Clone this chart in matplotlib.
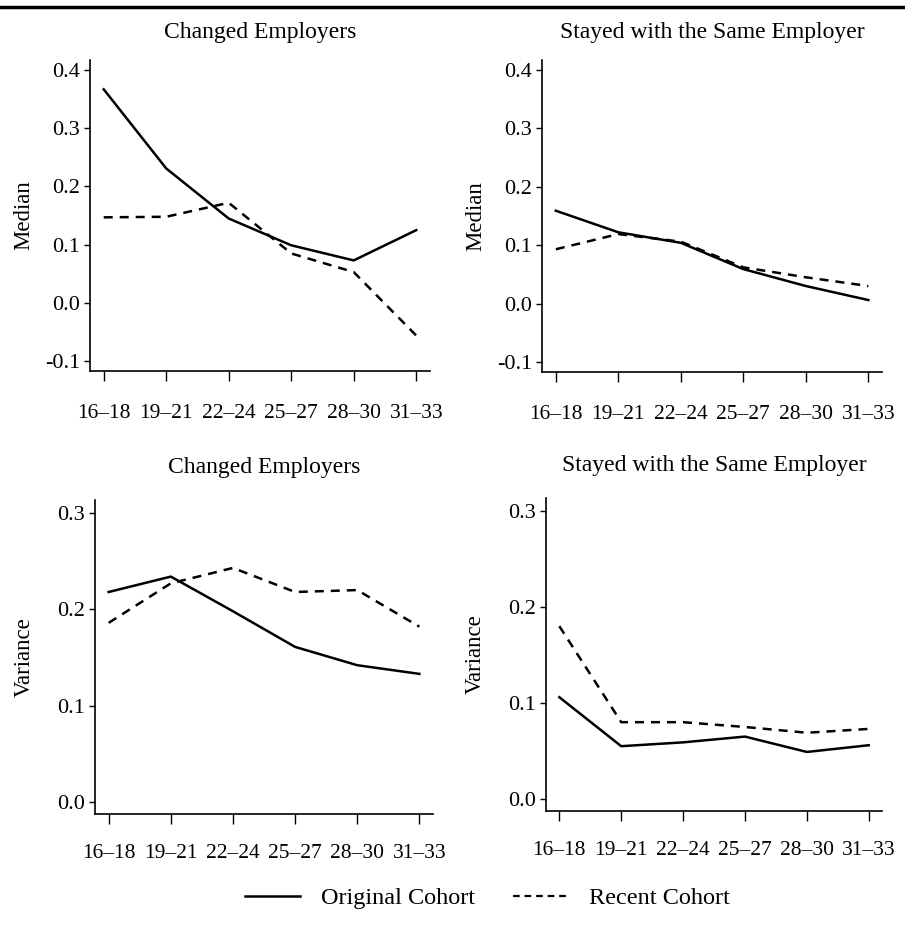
import matplotlib
matplotlib.use("Agg")
import matplotlib.pyplot as plt
from matplotlib.lines import Line2D

plt.rcParams['font.family'] = ['Liberation Serif', 'DejaVu Serif']

ages = ["16–18", "19–21", "22–24", "25–27", "28–30", "31–33"]

# median, changed employers
med_changed_orig = [0.367, 0.231, 0.145, 0.099, 0.073, 0.125]
med_changed_recent = [0.147, 0.148, 0.172, 0.085, 0.053, -0.056]
# median, stayed with same employer
med_stayed_orig = [0.159, 0.122, 0.104, 0.059, 0.030, 0.006]
med_stayed_recent = [0.093, 0.119, 0.106, 0.062, 0.045, 0.030]
# variance, changed employers
var_changed_orig = [0.218, 0.234, 0.198, 0.161, 0.142, 0.133]
var_changed_recent = [0.186, 0.227, 0.243, 0.218, 0.220, 0.182]
# variance, stayed with same employer
var_stayed_orig = [0.106, 0.055, 0.059, 0.065, 0.049, 0.056]
var_stayed_recent = [0.180, 0.080, 0.080, 0.075, 0.069, 0.073]

fig = plt.figure(figsize=(9.05, 9.39), dpi=100)

# rect, title, ylabel, series, ylim, yticks, title pad, ylabel pad, xtick pad
panels = [
    ([0.0994, 0.6049, 0.3757, 0.331], "Changed Employers", "Median",
     med_changed_orig, med_changed_recent, (-0.117, 0.417),
     [-0.1, 0.0, 0.1, 0.2, 0.3, 0.4], 16, 8, 17),
    ([0.599, 0.604, 0.3757, 0.332], "Stayed with the Same Employer", "Median",
     med_stayed_orig, med_stayed_recent, (-0.117, 0.417),
     [-0.1, 0.0, 0.1, 0.2, 0.3, 0.4], 16, 8, 17),
    ([0.105, 0.1331, 0.3735, 0.3344], "Changed Employers", "Variance",
     var_changed_orig, var_changed_recent, (-0.0125, 0.3135),
     [0.0, 0.1, 0.2, 0.3], 19.5, 16, 14.5),
    ([0.603, 0.1363, 0.372, 0.3334], "Stayed with the Same Employer", "Variance",
     var_stayed_orig, var_stayed_recent, (-0.0125, 0.3135),
     [0.0, 0.1, 0.2, 0.3], 19.5, 16, 14.5),
]

x = list(range(len(ages)))
for rect, title, ylab, orig, recent, ylim, yt, tpad, lpad, xpad in panels:
    ax = fig.add_axes(rect)
    ax.plot(x, orig, color='black', lw=1.8, solid_joinstyle='round')
    ax.plot(x, recent, color='black', lw=1.8, dashes=(3.6, 2.8))
    ax.set_xlim(-0.22, 5.22)
    ax.set_ylim(*ylim)
    ax.set_xticks(x)
    ax.set_xticklabels(ages)
    ax.set_yticks(yt)
    ax.set_yticklabels(["%.1f" % v for v in yt])
    for s in ['top', 'right']:
        ax.spines[s].set_visible(False)
    for s in ['left', 'bottom']:
        ax.spines[s].set_linewidth(1.2)
    ax.tick_params(axis='x', length=7, width=1, pad=xpad, labelsize=15.5)
    ax.tick_params(axis='y', length=4, width=1, pad=3, labelsize=16)
    ax.set_ylabel(ylab, fontsize=16.5, labelpad=lpad)
    ax.set_title(title, fontsize=17, pad=tpad)

# thick rule across the top
fig.add_artist(Line2D([0, 1], [1 - 7 / 939, 1 - 7 / 939], color='black', lw=2.5))

handles = [Line2D([], [], color='black', lw=1.8),
           Line2D([], [], color='black', lw=1.6, dashes=(3, 2.2))]
fig.legend(handles, ["Original Cohort", "Recent Cohort"], loc='center',
           bbox_to_anchor=(487.5 / 905, 1 - 898 / 939), ncol=2, frameon=False,
           fontsize=17.5, handlelength=2.26, handletextpad=0.86, columnspacing=1.56)

fig.savefig("out.png", dpi=100, facecolor='white')
